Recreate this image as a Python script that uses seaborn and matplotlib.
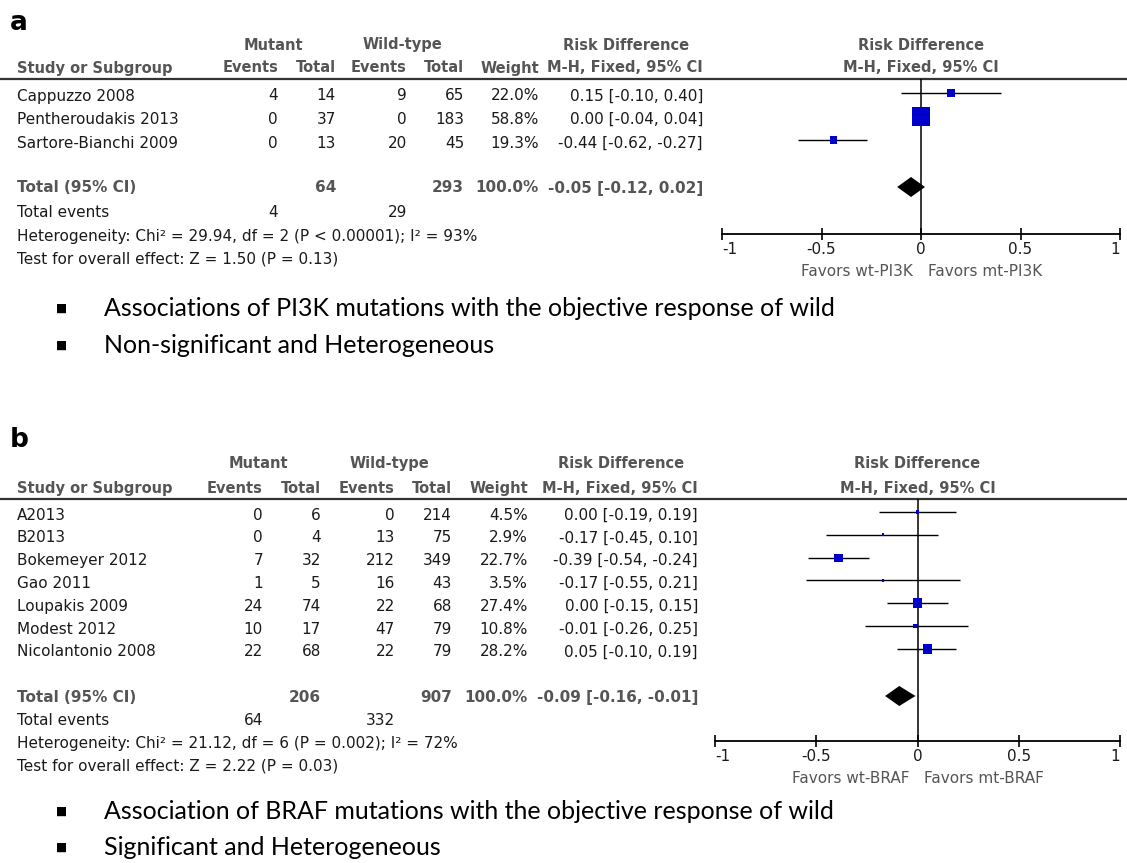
import matplotlib
matplotlib.use("Agg")
import matplotlib.pyplot as plt
import seaborn as sns

sns.set_theme(style="white")
plt.rcParams["font.family"] = ["DejaVu Sans"]

# ---- panel a data (PI3K) ----
a_studies = ["Cappuzzo 2008", "Pentheroudakis 2013", "Sartore-Bianchi 2009"]
a_mut_events = [4, 0, 0]
a_mut_total = [14, 37, 13]
a_wt_events = [9, 0, 20]
a_wt_total = [65, 183, 45]
a_weight = [22.0, 58.8, 19.3]
a_rd = [0.15, 0.00, -0.44]
a_lo = [-0.10, -0.04, -0.62]
a_hi = [0.40, 0.04, -0.27]
a_tot_n = [64, 293]
a_tot_events = [4, 29]
a_pooled = [-0.05, -0.12, 0.02]
a_het = "Heterogeneity: Chi\u00b2 = 29.94, df = 2 (P < 0.00001); I\u00b2 = 93%"
a_test = "Test for overall effect: Z = 1.50 (P = 0.13)"
a_favors = ["Favors wt-PI3K", "Favors mt-PI3K"]
a_bullets = ["Associations of PI3K mutations with the objective response of wild",
             "Non-significant and Heterogeneous"]

# ---- panel b data (BRAF) ----
b_studies = ["A2013", "B2013", "Bokemeyer 2012", "Gao 2011", "Loupakis 2009",
             "Modest 2012", "Nicolantonio 2008"]
b_mut_events = [0, 0, 7, 1, 24, 10, 22]
b_mut_total = [6, 4, 32, 5, 74, 17, 68]
b_wt_events = [0, 13, 212, 16, 22, 47, 22]
b_wt_total = [214, 75, 349, 43, 68, 79, 79]
b_weight = [4.5, 2.9, 22.7, 3.5, 27.4, 10.8, 28.2]
b_rd = [0.00, -0.17, -0.39, -0.17, 0.00, -0.01, 0.05]
b_lo = [-0.19, -0.45, -0.54, -0.55, -0.15, -0.26, -0.10]
b_hi = [0.19, 0.10, -0.24, 0.21, 0.15, 0.25, 0.19]
b_tot_n = [206, 907]
b_tot_events = [64, 332]
b_pooled = [-0.09, -0.16, -0.01]
b_het = "Heterogeneity: Chi\u00b2 = 21.12, df = 6 (P = 0.002); I\u00b2 = 72%"
b_test = "Test for overall effect: Z = 2.22 (P = 0.03)"
b_favors = ["Favors wt-BRAF", "Favors mt-BRAF"]
b_bullets = ["Association of BRAF mutations with the objective response of wild",
             "Significant and Heterogeneous"]

tick_vals = [-1, -0.5, 0, 0.5, 1]
tick_labels = ["-1", "-0.5", "0", "0.5", "1"]

W, H = 1127, 863
fig = plt.figure(figsize=(W / 100, H / 100), dpi=100)
bg = fig.add_axes([0, 0, 1, 1])
bg.set_xlim(0, W)
bg.set_ylim(H, 0)
bg.axis("off")

HEAD = "#555555"
BODY = "#1a1a1a"
FS = 11
HFS = 10.5


def fmt_ci(est, lo, hi):
    return f"{est:.2f} [{lo:.2f}, {hi:.2f}]"


def panel(label, L, studies, me, mt, we, wt, wgt, rd, lo, hi,
          tot_n, tot_ev, pooled, het, test, favors, bullets):
    c = L["cols"]
    # panel letter
    bg.text(10, L["label"], label, fontsize=19, fontweight="bold",
            color="black", va="baseline")
    # headers
    y1, y2 = L["head1"], L["head2"]
    hk = dict(fontsize=HFS, fontweight="bold", color=HEAD, va="center")
    bg.text(L["mut_c"], y1, "Mutant", ha="center", **hk)
    bg.text(L["wt_c"], y1, "Wild-type", ha="center", **hk)
    bg.text(c[5] - 14, y1, "Risk Difference", ha="right", **hk)
    zero_px = (L["left"] + L["right"]) / 2
    bg.text(zero_px, y1, "Risk Difference", ha="center", **hk)
    bg.text(17, y2, "Study or Subgroup", ha="left", **hk)
    for x, t in zip(c, ["Events", "Total", "Events", "Total", "Weight",
                        "M-H, Fixed, 95% CI"]):
        bg.text(x, y2, t, ha="right", **hk)
    bg.text(zero_px, y2, "M-H, Fixed, 95% CI", ha="center", **hk)
    bg.plot([0, W], [L["top"], L["top"]], color="#333333", lw=1.6,
            solid_capstyle="butt")

    # study rows
    rows = [L["row0"] + i * L["dy"] for i in range(len(studies))]
    bk = dict(fontsize=FS, color=BODY, va="center")
    for i, y in enumerate(rows):
        bg.text(17, y, studies[i], ha="left", **bk)
        vals = [str(me[i]), str(mt[i]), str(we[i]), str(wt[i]),
                f"{wgt[i]:.1f}%", fmt_ci(rd[i], lo[i], hi[i])]
        for x, t in zip(c, vals):
            bg.text(x, y, t, ha="right", **bk)

    # totals
    yt = L["tot"]
    tk = dict(fontsize=FS, fontweight="bold", color=HEAD, va="center")
    bg.text(17, yt, "Total (95% CI)", ha="left", **tk)
    bg.text(c[1], yt, str(tot_n[0]), ha="right", **tk)
    bg.text(c[3], yt, str(tot_n[1]), ha="right", **tk)
    bg.text(c[4], yt, "100.0%", ha="right", **tk)
    bg.text(c[5], yt, fmt_ci(*pooled), ha="right", **tk)
    bg.text(17, L["tev"], "Total events", ha="left", **bk)
    bg.text(c[0], L["tev"], str(tot_ev[0]), ha="right", **bk)
    bg.text(c[2], L["tev"], str(tot_ev[1]), ha="right", **bk)
    bg.text(17, L["het"], het, ha="left", **bk)
    bg.text(17, L["test"], test, ha="left", **bk)

    # forest plot
    ax = fig.add_axes([L["left"] / W, 1 - L["axis"] / H,
                       (L["right"] - L["left"]) / W,
                       (L["axis"] - L["top"]) / H])
    ax.set_facecolor("none")
    ax.set_xlim(-1, 1)
    ax.set_ylim(L["axis"], L["top"])
    ys = [y - 3 for y in rows]
    ax.hlines(ys, lo, hi, color="black", lw=1.0, zorder=2)
    sizes = [((0.28 * w + 1.8) * 0.72) ** 2 for w in wgt]
    sns.scatterplot(x=rd, y=ys, marker="s", s=sizes, color="#0000cc",
                    linewidth=0, ax=ax, legend=False, zorder=3)
    yd = yt - 1
    ax.fill([pooled[1], pooled[0], pooled[2], pooled[0]],
            [yd, yd - 10, yd, yd + 10], color="black", lw=0, zorder=3)
    ax.axvline(0, color="black", lw=1.1, zorder=1)
    for s in ["top", "left", "right"]:
        ax.spines[s].set_visible(False)
    ax.spines["bottom"].set_color("black")
    ax.spines["bottom"].set_linewidth(1.3)
    ax.set_yticks([])
    ax.set_xticks(tick_vals)
    ax.set_xticklabels(tick_labels)
    ax.tick_params(axis="x", direction="inout", length=8, width=1.2,
                   color="black", labelsize=FS, labelcolor=BODY, pad=1.5,
                   bottom=True)
    labs = ax.get_xticklabels()
    labs[0].set_ha("left")
    labs[-1].set_ha("right")
    ax.set_xlabel("")
    ax.set_ylabel("")

    bg.text(zero_px - 8, L["axis"] + 37, favors[0], ha="right", va="center",
            fontsize=FS, color=HEAD)
    bg.text(zero_px + 7, L["axis"] + 37, favors[1], ha="left", va="center",
            fontsize=FS, color=HEAD)

    # bullets
    for y, t in zip(L["bullets"], bullets):
        bg.text(62, y, "\u25a0", ha="center", va="center", fontsize=8.5,
                color="black", family="DejaVu Sans")
        bg.text(104, y, t, ha="left", va="center", fontsize=18,
                color="black", family=["Lato", "DejaVu Sans"])


layout_a = dict(label=30, head1=45, head2=68, top=79, row0=96, dy=23.5,
                tot=188, tev=212, het=236, test=259,
                cols=[278, 336, 407, 464, 539, 703], mut_c=273, wt_c=402,
                left=722, right=1120, axis=234, bullets=[308, 345])
layout_b = dict(label=447, head1=463, head2=488, top=499, row0=515, dy=22.8,
                tot=697, tev=720, het=743, test=766,
                cols=[263, 321, 395, 452, 528, 698], mut_c=258, wt_c=389,
                left=715, right=1120, axis=741, bullets=[811, 847])

panel("a", layout_a, a_studies, a_mut_events, a_mut_total, a_wt_events,
      a_wt_total, a_weight, a_rd, a_lo, a_hi, a_tot_n, a_tot_events,
      a_pooled, a_het, a_test, a_favors, a_bullets)
panel("b", layout_b, b_studies, b_mut_events, b_mut_total, b_wt_events,
      b_wt_total, b_weight, b_rd, b_lo, b_hi, b_tot_n, b_tot_events,
      b_pooled, b_het, b_test, b_favors, b_bullets)

fig.savefig("out.png", dpi=100)
